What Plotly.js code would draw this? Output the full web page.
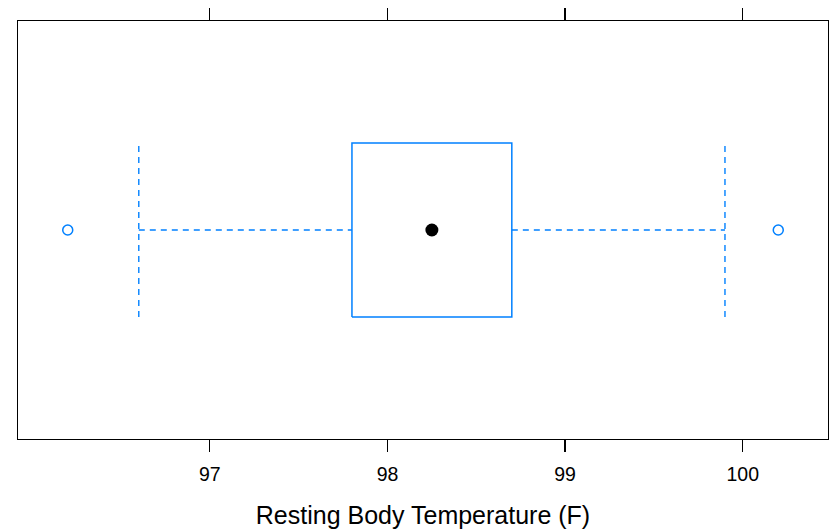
<!DOCTYPE html>
<html>
<head>
<meta charset="utf-8">
<script src="https://cdn.plot.ly/plotly-3.0.1.min.js"></script>
<style>html,body{margin:0;padding:0;background:#fff;}#chart{width:831px;height:530px;}</style>
</head>
<body>
<div id="chart"></div>
<script>
// Summary statistics of resting body temperature (F)
const stats = {q1: 97.8, median: 98.25, q3: 98.7, whiskerLow: 96.6, whiskerHigh: 99.9};
const outliers = [96.2, 100.2];
const tickValues = [97, 98, 99, 100];
const tickLabels = ["97", "98", "99", "100"];
const xTitle = "Resting Body Temperature (F)";

const blue = "#0080ff";
const pos = 1, half = 0.25;
const lo = pos - half, hi = pos + half;

const traces = [
  {x: [stats.whiskerLow, stats.q1, null, stats.q3, stats.whiskerHigh], y: [pos, pos, null, pos, pos],
   mode: "lines", line: {color: blue, width: 1.4, dash: "6px,5px"}, hoverinfo: "skip"},
  {x: [stats.whiskerLow, stats.whiskerLow, null, stats.whiskerHigh, stats.whiskerHigh], y: [lo, hi, null, lo, hi],
   mode: "lines", line: {color: blue, width: 1.4, dash: "6px,5px"}, hoverinfo: "skip"},
  {x: [stats.q1, stats.q3, stats.q3, stats.q1, stats.q1], y: [lo, lo, hi, hi, lo],
   mode: "lines", line: {color: blue, width: 1.5}, hoverinfo: "skip"},
  {x: [stats.median], y: [pos], mode: "markers",
   marker: {symbol: "circle", size: 13, color: "black"}},
  {x: outliers, y: outliers.map(() => pos), mode: "markers",
   marker: {symbol: "circle-open", size: 10, color: blue, line: {width: 1.5, color: blue}}}
];

const layout = {
  width: 831, height: 530,
  margin: {l: 18, r: 3, t: 21, b: 91},
  paper_bgcolor: "white", plot_bgcolor: "white",
  showlegend: false,
  font: {family: "Liberation Sans, Arial, sans-serif", color: "black"},
  xaxis: {
    range: [95.92, 100.48],
    tickvals: tickValues, ticktext: tickLabels,
    ticks: "outside", ticklen: 12, tickwidth: 1.3, tickcolor: "black",
    ticklabelstandoff: 5,
    showline: true, linecolor: "black", linewidth: 1.3, mirror: "allticks",
    showgrid: false, zeroline: false,
    tickfont: {size: 19.5, color: "black"},
    title: {text: xTitle, font: {size: 25, color: "black"}, standoff: 22}
  },
  yaxis: {
    range: [0.4, 1.6],
    showticklabels: false, ticks: "",
    showline: true, linecolor: "black", linewidth: 1.3, mirror: true,
    showgrid: false, zeroline: false
  }
};

Plotly.newPlot("chart", traces, layout, {displayModeBar: false, staticPlot: true});
</script>
</body>
</html>
